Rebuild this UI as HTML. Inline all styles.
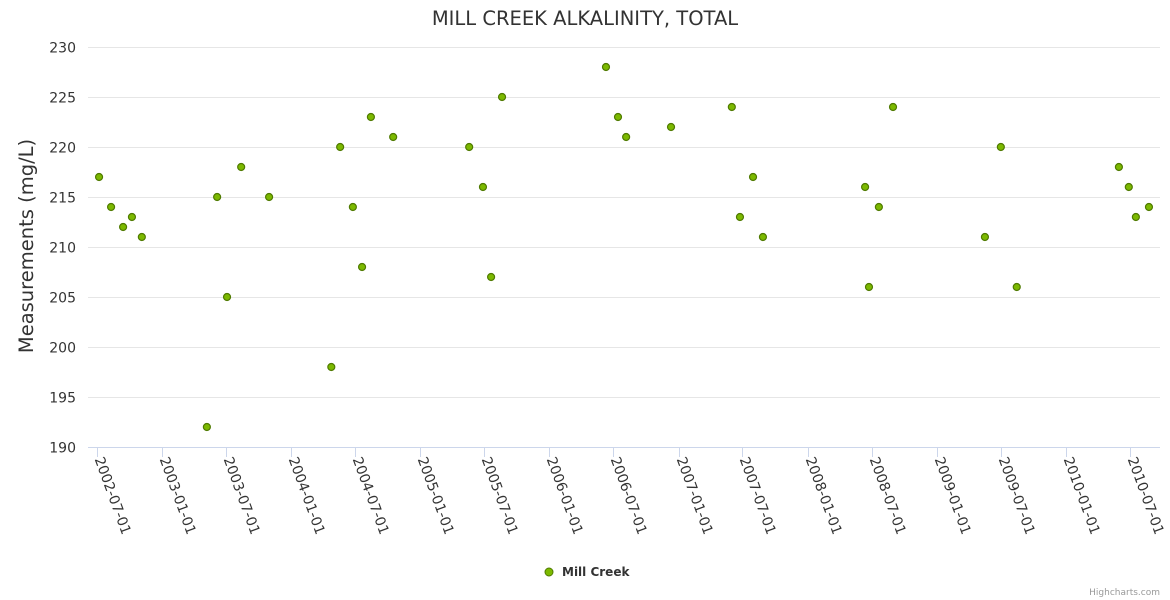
<!DOCTYPE html>
<html><head><meta charset="utf-8"><style>
body{margin:0;background:#fff;}
svg{display:block;font-family:"DejaVu Sans","Liberation Sans",sans-serif;}
</style></head><body>
<svg id="chart" width="1170" height="600">
<rect width="1170" height="600" fill="#fff"/>
<text x="585" y="25" text-anchor="middle" font-size="19.5" fill="#333">MILL CREEK ALKALINITY, TOTAL</text>
<g id="grid"></g><g id="yticks"></g><g id="xaxis"></g><g id="points"></g>
<text transform="translate(33,246) rotate(-90)" text-anchor="middle" font-size="19.5" fill="#333">Measurements (mg/L)</text>
<g>
<circle cx="549" cy="572" r="4" fill="#7cb900" stroke="#4f7a00" stroke-width="1"/>
<text x="562" y="576" font-size="12" font-weight="bold" fill="#333">Mill Creek</text>
</g>
<text x="1160" y="595" text-anchor="end" font-size="9" fill="#999">Highcharts.com</text>
</svg>
<script>
const dates=["2002-07-04","2002-08-07","2002-09-10","2002-10-05","2002-11-02","2003-05-05","2003-06-03","2003-07-01","2003-08-10","2003-10-28","2004-04-21","2004-05-16","2004-06-21","2004-07-17","2004-08-11","2004-10-13","2005-05-16","2005-06-24","2005-07-17","2005-08-17","2006-06-07","2006-07-11","2006-08-03","2006-12-08","2007-05-29","2007-06-21","2007-07-28","2007-08-25","2008-06-09","2008-06-20","2008-07-18","2008-08-27","2009-05-14","2009-06-28","2009-08-12","2010-05-28","2010-06-25","2010-07-15","2010-08-21"];
const values=[217,214,212,213,211,192,215,205,218,215,198,220,214,208,223,221,220,216,207,225,228,223,221,222,224,213,217,211,216,206,214,224,211,220,206,218,216,213,214];
const yTicks=[190,195,200,205,210,215,220,225,230];
const xTicks=["2002-07-01","2003-01-01","2003-07-01","2004-01-01","2004-07-01","2005-01-01","2005-07-01","2006-01-01","2006-07-01","2007-01-01","2007-07-01","2008-01-01","2008-07-01","2009-01-01","2009-07-01","2010-01-01","2010-07-01"];
const NS="http://www.w3.org/2000/svg";
const L=88,R=1160,T=47,B=447;
const d0=Date.parse("2002-07-01"),DAY=86400000;
function xs(d){return 98+(Date.parse(d)-d0)/DAY*0.3535;}
function ys(v){return B-(v-190)/40*(B-T);}
function mk(t,a,p){const e=document.createElementNS(NS,t);for(const k in a)e.setAttribute(k,a[k]);p.appendChild(e);return e;}
const grid=document.getElementById('grid'),yt=document.getElementById('yticks'),xa=document.getElementById('xaxis'),pts=document.getElementById('points');
yTicks.forEach(v=>{
 const y=Math.round(ys(v))+0.5;
 if(v>190){const g=mk('line',{x1:L,x2:R,y1:y,y2:y,stroke:'#e6e6e6','stroke-width':1},grid);
 
 }
 const t=mk('text',{x:76,y:y+5,'text-anchor':'end','font-size':14,fill:'#333'},yt);
 t.textContent=v;
 
 
});
const ax=mk('line',{x1:L,x2:R,y1:447.5,y2:447.5,stroke:'#ccd6eb','stroke-width':1},xa);


xTicks.forEach(d=>{
 const x=Math.round(xs(d))-0.5;
 mk('line',{x1:x,x2:x,y1:447,y2:457,stroke:'#ccd6eb'},xa);
 const t=mk('text',{transform:`translate(${x-3},${459}) rotate(70)`,'font-size':14,fill:'#333'},xa);
 t.textContent=d;
 
 
});
dates.forEach((d,i)=>{
 const c=mk('circle',{cx:xs(d),cy:ys(values[i]),r:3.5,fill:'#7cb900',stroke:'#4f7a00','stroke-width':1.2},pts);
 
 
});
</script>
</body></html>
